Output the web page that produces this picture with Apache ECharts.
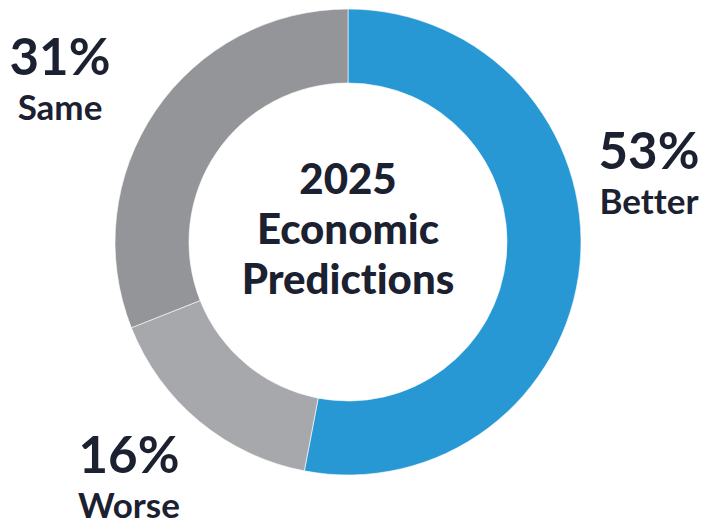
<!DOCTYPE html>
<html>
<head>
<meta charset="utf-8">
<script src="https://cdn.jsdelivr.net/npm/echarts@6/dist/echarts.min.js"></script>
<style>
  html, body { margin: 0; padding: 0; background: #ffffff; }
  #chart { width: 705px; height: 528px; }
  /* Plain letterforms: no "ti" ligature in Lato */
  #chart text { font-variant-ligatures: none !important; font-feature-settings: "liga" 0, "clig" 0 !important; }
</style>
</head>
<body>
<div id="chart"></div>
<script>
// Survey outcome shares, in drawing order (clockwise from 12 o'clock)
const categories = ['Better', 'Worse', 'Same'];
const shares = [53, 16, 31];
const sliceColors = ['#2898d5', '#a7a8ab', '#939598'];
const centerTitle = ['2025', 'Economic', 'Predictions'];

// Where each slice's caption block is centred
const labelSpots = [
  [649, 174],
  [129, 478],
  [60, 80]
];

const textColor = '#1b2130';
const fontFamily = 'Lato, "Noto Sans", sans-serif';

const chart = echarts.init(document.getElementById('chart'), null, { renderer: 'svg' });

chart.setOption({
  backgroundColor: '#ffffff',
  animation: false,
  graphic: [{
    type: 'text',
    x: 348,
    y: 228,
    style: {
      text: centerTitle.join('\n'),
      font: '900 42px ' + fontFamily,
      fill: textColor,
      align: 'center',
      verticalAlign: 'middle',
      lineHeight: 50
    }
  }],
  series: [{
    type: 'pie',
    center: [348, 242],
    radius: [159, 233],
    startAngle: 90,
    clockwise: true,
    avoidLabelOverlap: false,
    itemStyle: { borderColor: '#ffffff', borderWidth: 0.6 },
    emphasis: { disabled: true },
    labelLine: { show: false },
    label: {
      show: true,
      position: 'outside',
      formatter: p => '{p|' + p.value + '%}\n{n|' + p.name + '}',
      rich: {
        p: { fontFamily: fontFamily, fontWeight: 'bold', fontSize: 51, lineHeight: 52, color: textColor, align: 'center' },
        n: { fontFamily: fontFamily, fontWeight: 'bold', fontSize: 35, lineHeight: 50, color: textColor, align: 'center' }
      }
    },
    labelLayout: params => ({
      x: labelSpots[params.dataIndex][0],
      y: labelSpots[params.dataIndex][1],
      align: 'center',
      verticalAlign: 'middle'
    }),
    data: categories.map((name, i) => ({
      name: name,
      value: shares[i],
      itemStyle: { color: sliceColors[i] }
    }))
  }]
});
</script>
</body>
</html>
